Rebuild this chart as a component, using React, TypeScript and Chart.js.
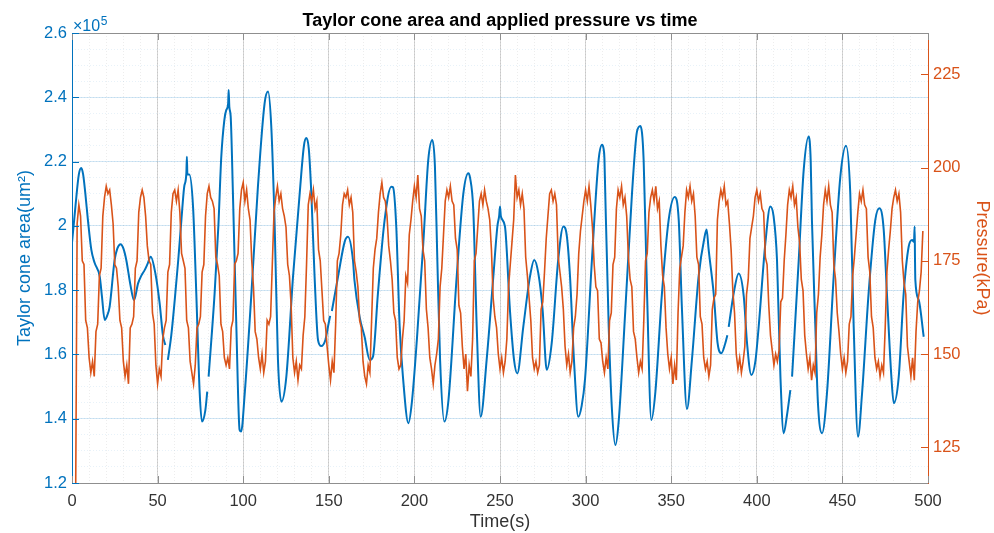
import React, { useEffect, useRef } from 'react';
import { Chart, registerables } from 'chart.js';

Chart.register(...registerables);

const W = 994;
const H = 533;
const PLOT_LEFT = 72;
const PLOT_RIGHT = 928;
const PLOT_TOP = 33;
const PLOT_BOTTOM = 483;

const BLUE = '#0072BD';
const ORANGE = '#D95319';
const AXIS_GRAY = '#8f8f8f';
const FONT = '"Liberation Sans", Arial, Helvetica, sans-serif';

const TITLE = 'Taylor cone area and applied pressure vs time';
const X_LABEL = 'Time(s)';
const AREA_LABEL = 'Taylor cone area(um\u00B2)';
const PRESSURE_LABEL = 'Pressure(kPa)';

const X_TICKS = [0, 50, 100, 150, 200, 250, 300, 350, 400, 450, 500];
const X_MINOR = [0, 10, 20, 30, 40, 50, 60, 70, 80, 90, 100, 110, 120, 130, 140, 150, 160, 170, 180, 190, 200,
  210, 220, 230, 240, 250, 260, 270, 280, 290, 300, 310, 320, 330, 340, 350, 360, 370, 380, 390, 400,
  410, 420, 430, 440, 450, 460, 470, 480, 490, 500];
const AREA_TICKS = [1.2, 1.4, 1.6, 1.8, 2.0, 2.2, 2.4, 2.6];
const AREA_MINOR = [1.2, 1.25, 1.3, 1.35, 1.4, 1.45, 1.5, 1.55, 1.6, 1.65, 1.7, 1.75, 1.8, 1.85, 1.9, 1.95,
  2.0, 2.05, 2.1, 2.15, 2.2, 2.25, 2.3, 2.35, 2.4, 2.45, 2.5, 2.55, 2.6];
const PRESSURE_TICKS = [125, 150, 175, 200, 225];
const PRESSURE_MIN = 115.4;
const PRESSURE_MAX = 236.1;

// Taylor cone area, in units of 10^5 um^2 (null = gap in the record)
const AREA_TIME = [
  0, 2, 4, 5.4, 6.5, 7.8, 9.3, 11.3, 13.2, 16.2,
  17.5, 19.1, 20.5, 22, 24.9, 26.5, 28.4, 30, 31.7, 34.3,
  36.2, 38.6, 40.5, 42.5, 44, 46, 48.7, 51.2, 53.1, 54.5,
  55.2, 56, 58, 60, 62, 63.9, 65.5, 66.8, 67.1, 67.4,
  68.5, 70.7, 72.6, 74.6, 75.9, 77.9, 79, 79.4, 79.8, 83.3,
  85.5, 87.2, 89, 90.1, 91.2, 91.5, 91.9, 92.7, 94, 96,
  97.9, 98.8, 100.9, 104.8, 108.6, 112.5, 114.5, 116.4, 118.4, 120.3,
  122.3, 125.2, 129.1, 133, 135.5, 136.9, 138.3, 139.8, 141.7, 143.7,
  145.6, 148, 149.5, 150.8, 151.3, 151.8, 155.4, 159.3, 161.2, 164.1,
  165, 168, 170.9, 173.9, 175.8, 178.7, 182.6, 186.5, 187.5, 189.4,
  191.4, 193.3, 196.5, 198.5, 201.5, 205.2, 208.1, 210.5, 212, 213.4,
  215, 217.5, 219.9, 224.7, 228.6, 231.5, 232.5, 234.4, 236.4, 238.7,
  242.2, 246.1, 248.5, 249.5, 250, 250.5, 252.9, 255.8, 258.2, 260.1,
  263.6, 267.5, 270, 272.4, 274.9, 277.3, 280.2, 284, 287, 289,
  290.9, 293.2, 295.7, 297.7, 299.7, 303.7, 307.6, 309.6, 310.5, 311,
  311.4, 313.5, 315.4, 317.4, 319.3, 323.2, 327.1, 330, 332, 333.9,
  335.9, 338.4, 340.7, 344.6, 348.5, 352, 354.4, 356.3, 359.2, 362.1,
  366, 369.5, 370.7, 371.8, 374.8, 377.1, 379.3, 381.6, 382.8, 383.2,
  383.6, 386.5, 389.4, 392.4, 394.3, 396.8, 399.2, 401.1, 405, 407.9,
  409.8, 411.8, 413.8, 415.7, 417.6, 419.6, 420.1, 420.6, 424.5, 427.4,
  430.3, 431.5, 432.2, 434.2, 435.7, 438.1, 441, 444.9, 448.8, 452.1,
  454.6, 456.6, 459.1, 461.5, 465.3, 469.2, 471.6, 474.1, 476, 478.6,
  480, 482.9, 485.8, 488.7, 490.7, 491.8, 492.2, 492.4, 492.6, 494.6,
  497.5,
];
const AREA_VALUE = [
  1.947, 2.06, 2.16, 2.18, 2.16, 2.10, 2.018, 1.925, 1.885, 1.842,
  1.78, 1.707, 1.72, 1.749, 1.894, 1.93, 1.943, 1.93, 1.894, 1.811,
  1.769, 1.821, 1.845, 1.863, 1.88, 1.904, 1.852, 1.759, 1.66, 1.629,
  null, 1.583, 1.66, 1.769, 1.89, 2.018, 2.12, 2.164, 2.215, 2.16,
  2.16, 2.06, 1.79, 1.479, 1.391, 1.427, 1.484, null, 1.531, 1.79,
  2.0, 2.215, 2.33, 2.36, 2.38, 2.423, 2.37, 2.34, 2.10, 1.686,
  1.365, 1.36, 1.479, 1.79, 2.122, 2.381, 2.418, 2.309, 1.998, 1.583,
  1.453, 1.531, 1.842, 2.101, 2.25, 2.273, 2.24, 2.10, 1.842, 1.645,
  1.626, 1.645, 1.686, 1.72, null, 1.735, 1.842, 1.951, 1.966, 1.894,
  1.83, 1.717, 1.655, 1.583, 1.593, 1.79, 2.018, 2.122, 2.12, 1.998,
  1.686, 1.531, 1.386, 1.45, 1.65, 1.946, 2.205, 2.267, 2.184, 1.894,
  1.583, 1.391, 1.458, 1.842, 2.101, 2.164, 2.15, 2.049, 1.686, 1.406,
  1.583, 1.842, 2.0, 2.03, 2.06, 2.03, 1.998, 1.738, 1.583, 1.541,
  1.686, 1.842, 1.894, 1.852, 1.738, 1.552, 1.635, 1.894, 1.998, 1.97,
  1.842, 1.583, 1.406, 1.44, 1.525, 1.894, 2.205, 2.252, 2.24, 2.21,
  2.12, 1.686, 1.427, 1.318, 1.39, 1.738, 2.101, 2.293, 2.311, 2.205,
  1.79, 1.396, 1.48, 1.79, 2.018, 2.09, 2.018, 1.738, 1.43, 1.583,
  1.842, 1.966, 1.989, 1.93, 1.79, 1.635, 1.604, 1.635, 1.66, null,
  1.686, 1.79, 1.852, 1.78, 1.635, 1.536, 1.58, 1.686, 1.946, 2.06,
  2.03, 1.894, 1.531, 1.355, 1.41, 1.489, null, 1.531, 1.894, 2.174,
  2.278, 2.2, 2.018, 1.686, 1.45, 1.355, 1.48, 1.842, 2.153, 2.249,
  2.101, 1.686, 1.344, 1.48, 1.79, 2.018, 2.055, 1.99, 1.79, 1.531,
  1.448, 1.53, 1.79, 1.935, 1.956, 1.95, 1.998, 1.9, 1.832, 1.769,
  1.655,
];

// Applied pressure (kPa), one sample per second starting at t = 0 s
const PRESSURE_KPA = [
  100, 100, 100, 185, 190, 187, 175, 174, 159, 157,
  149, 145, 148, 144, 156, 158, 171, 173, 187, 192,
  195, 193, 194, 190, 185, 174, 173, 168, 159, 157,
  148, 144, 147, 142, 157, 158, 160, 173, 175, 188,
  192, 194, 192, 187, 179, 175, 174, 161, 158, 147,
  142, 146, 144, 154, 157, 159, 172, 174, 188, 193,
  194, 191, 194, 188, 177, 175, 173, 159, 157, 148,
  145, 142, 147, 157, 158, 160, 172, 174, 187, 193,
  195, 192, 191, 189, 176, 174, 171, 158, 156, 149,
  147, 149, 146, 157, 159, 174, 175, 177, 189, 194,
  196, 191, 194, 189, 186, 175, 168, 156, 154, 149,
  146, 150, 145, 148, 159, 158, 160, 174, 188, 192,
  195, 191, 193, 189, 187, 184, 174, 171, 163, 149,
  145, 148, 143, 147, 146, 155, 160, 174, 190, 193,
  191, 194, 189, 191, 178, 175, 167, 159, 158, 152,
  147, 143, 148, 145, 158, 175, 177, 182, 190, 193,
  192, 194, 190, 192, 188, 175, 172, 168, 159, 157,
  148, 144, 142, 147, 145, 159, 173, 178, 181, 188,
  193, 196, 192, 191, 187, 179, 175, 170, 161, 159,
  149, 146, 147, 154, 159, 171, 169, 182, 186, 191,
  195, 192, 198, 189, 187, 178, 175, 162, 157, 149,
  146, 142, 147, 150, 154, 168, 173, 182, 191, 194,
  192, 195, 191, 190, 181, 178, 163, 161, 152, 146,
  150, 140, 147, 144, 154, 175, 177, 184, 191, 193,
  190, 194, 191, 189, 186, 178, 165, 160, 157, 150,
  146, 149, 145, 148, 154, 168, 174, 180, 186, 198,
  192, 194, 190, 193, 189, 176, 171, 165, 159, 149,
  146, 148, 145, 147, 162, 164, 172, 181, 187, 193,
  194, 191, 193, 190, 176, 172, 168, 162, 152, 147,
  150, 145, 148, 157, 160, 166, 177, 183, 187, 191,
  194, 191, 195, 190, 184, 174, 168, 167, 154, 153,
  148, 145, 149, 146, 159, 161, 174, 176, 189, 194,
  192, 195, 190, 192, 187, 176, 170, 168, 156, 154,
  149, 145, 148, 146, 159, 175, 177, 188, 192, 194,
  191, 195, 189, 191, 179, 171, 168, 157, 150, 146,
  149, 142, 147, 143, 161, 173, 176, 179, 188, 194,
  192, 195, 191, 193, 187, 176, 174, 160, 158, 149,
  146, 148, 144, 147, 162, 165, 166, 186, 191, 194,
  192, 195, 190, 191, 185, 178, 167, 161, 150, 146,
  149, 145, 148, 152, 166, 170, 181, 184, 187, 192,
  194, 191, 193, 189, 188, 176, 174, 163, 155, 151,
  147, 150, 148, 151, 164, 165, 175, 182, 190, 194,
  192, 195, 190, 192, 184, 180, 170, 167, 155, 150,
  146, 149, 143, 147, 145, 161, 166, 176, 182, 190,
  194, 191, 195, 190, 188, 174, 170, 161, 156, 150,
  146, 149, 145, 148, 158, 160, 171, 176, 182, 188,
  193, 191, 194, 190, 189, 176, 172, 160, 157, 149,
  146, 148, 144, 147, 145, 157, 172, 178, 183, 189,
  192, 194, 191, 193, 188, 175, 169, 166, 152, 148,
  144, 149, 143, 156, 164, 167, 172, 183,
];

const PRESSURE_STEP_S = 1;

const decorPlugin = {
  id: 'matlabDecor',
  afterDraw(chart: any) {
    const { ctx, chartArea: a, scales } = chart;
    const TL = 7;
    ctx.save();
    ctx.lineWidth = 1;
    ctx.strokeStyle = AXIS_GRAY;
    ctx.beginPath();
    ctx.moveTo(a.left, Math.round(a.top) + 0.5);
    ctx.lineTo(a.right, Math.round(a.top) + 0.5);
    ctx.stroke();
    ctx.beginPath();
    for (const v of X_TICKS) {
      const px = Math.round(scales.x.getPixelForValue(v)) + 0.5;
      ctx.moveTo(px, a.bottom);
      ctx.lineTo(px, a.bottom - TL);
      ctx.moveTo(px, a.top);
      ctx.lineTo(px, a.top + TL);
    }
    ctx.stroke();
    ctx.strokeStyle = BLUE;
    ctx.beginPath();
    for (const v of AREA_TICKS) {
      const py = Math.round(scales.y.getPixelForValue(v)) + 0.5;
      ctx.moveTo(a.left, py);
      ctx.lineTo(a.left + TL, py);
    }
    ctx.stroke();
    ctx.strokeStyle = ORANGE;
    ctx.beginPath();
    for (const v of PRESSURE_TICKS) {
      const py = Math.round(scales.y2.getPixelForValue(v)) + 0.5;
      ctx.moveTo(a.right, py);
      ctx.lineTo(a.right - TL, py);
    }
    ctx.stroke();
    ctx.fillStyle = '#000';
    ctx.font = `bold 18px ${FONT}`;
    ctx.textAlign = 'center';
    ctx.textBaseline = 'alphabetic';
    ctx.fillText(TITLE, (a.left + a.right) / 2, 25.5);
    ctx.fillStyle = BLUE;
    ctx.textAlign = 'left';
    ctx.font = `16px ${FONT}`;
    const base = '\u00D710';
    ctx.fillText(base, a.left + 1, 31);
    const w = ctx.measureText(base).width;
    ctx.font = `12px ${FONT}`;
    ctx.fillText('5', a.left + 1 + w + 0.5, 25);
    ctx.restore();
  },
};

export default function App() {
  const ref = useRef<HTMLCanvasElement>(null);

  useEffect(() => {
    document.body.style.margin = '0';
    const canvas = ref.current;
    if (!canvas) return;

    const areaData = AREA_TIME.map((t, i) => ({ x: t, y: AREA_VALUE[i] }));
    const pressureData = PRESSURE_KPA.map((p, i) => ({ x: i * PRESSURE_STEP_S, y: p }));

    const edgeTransparent = (ends: number[], color: string) => (ctx: any) =>
      ctx.tick && ends.some((e) => Math.abs(ctx.tick.value - e) < 1e-9) ? 'rgba(0,0,0,0)' : color;

    const chart = new Chart(canvas, {
      type: 'line',
      data: {
        datasets: [
          {
            label: 'Area',
            data: areaData as any,
            borderColor: BLUE,
            borderWidth: 2,
            pointRadius: 0,
            cubicInterpolationMode: 'monotone',
            spanGaps: false,
            xAxisID: 'x',
            yAxisID: 'y',
            order: 2,
          },
          {
            label: 'Pressure',
            data: pressureData as any,
            borderColor: ORANGE,
            borderWidth: 1.6,
            pointRadius: 0,
            tension: 0,
            xAxisID: 'x',
            yAxisID: 'y2',
            order: 1,
          },
        ],
      },
      options: {
        animation: false,
        responsive: false,
        events: [],
        layout: { padding: { top: PLOT_TOP, left: 0, right: 0, bottom: 0 } },
        plugins: { legend: { display: false }, tooltip: { enabled: false }, title: { display: false } },
        scales: {
          x: {
            type: 'linear',
            position: 'bottom',
            min: 0,
            max: 500,
            afterBuildTicks: (s: any) => { s.ticks = X_TICKS.map((v) => ({ value: v })); },
            afterFit: (s: any) => { s.height = H - PLOT_BOTTOM; },
            grid: { color: edgeTransparent([0, 500], 'rgba(0,0,0,0.16)'), drawTicks: false, lineWidth: 1 },
            border: { color: AXIS_GRAY, width: 1 },
            ticks: {
              color: '#333',
              font: { family: FONT, size: 16.5 },
              padding: 9,
              maxRotation: 0,
              autoSkip: false,
              callback: (v: any) => String(v),
            },
            title: { display: true, text: X_LABEL, color: '#333', font: { family: FONT, size: 18 }, padding: { top: 0, bottom: 0 } },
          },
          xMinor: {
            type: 'linear',
            position: 'bottom',
            min: 0,
            max: 500,
            afterBuildTicks: (s: any) => { s.ticks = X_MINOR.map((v) => ({ value: v })); },
            afterFit: (s: any) => { s.height = 0; },
            grid: { color: edgeTransparent([0, 500], 'rgba(0,0,0,0.07)'), drawTicks: false, lineWidth: 1 },
            border: { display: false, dash: [1, 2] },
            ticks: { display: false },
          },
          y: {
            type: 'linear',
            position: 'left',
            min: 1.2,
            max: 2.6,
            afterBuildTicks: (s: any) => { s.ticks = AREA_TICKS.map((v) => ({ value: v })); },
            afterFit: (s: any) => { s.width = PLOT_LEFT; },
            grid: { color: edgeTransparent([1.2, 2.6], 'rgba(0,114,189,0.17)'), drawTicks: false, lineWidth: 1 },
            border: { color: BLUE, width: 1 },
            ticks: {
              color: BLUE,
              font: { family: FONT, size: 16.5 },
              padding: 5,
              callback: (v: any) => String(Number(Number(v).toFixed(2))),
            },
            title: { display: true, text: AREA_LABEL, color: BLUE, font: { family: FONT, size: 18 }, padding: { top: 14, bottom: 0 } },
          },
          yMinor: {
            type: 'linear',
            position: 'left',
            min: 1.2,
            max: 2.6,
            afterBuildTicks: (s: any) => { s.ticks = AREA_MINOR.map((v) => ({ value: v })); },
            afterFit: (s: any) => { s.width = 0; },
            grid: { color: edgeTransparent([1.2, 2.6], 'rgba(0,114,189,0.09)'), drawTicks: false, lineWidth: 1 },
            border: { display: false, dash: [1, 2] },
            ticks: { display: false },
          },
          y2: {
            type: 'linear',
            position: 'right',
            min: PRESSURE_MIN,
            max: PRESSURE_MAX,
            afterBuildTicks: (s: any) => { s.ticks = PRESSURE_TICKS.map((v) => ({ value: v })); },
            afterFit: (s: any) => { s.width = W - PLOT_RIGHT; },
            grid: { drawOnChartArea: false, drawTicks: false },
            border: { color: ORANGE, width: 1 },
            ticks: {
              color: ORANGE,
              font: { family: FONT, size: 16.5 },
              padding: 5,
              callback: (v: any) => String(v),
            },
            title: { display: true, text: PRESSURE_LABEL, color: ORANGE, font: { family: FONT, size: 18 }, padding: { top: 1, bottom: 0 } },
          },
        },
      } as any,
      plugins: [decorPlugin],
    });

    return () => chart.destroy();
  }, []);

  return (
    <div style={{ position: 'absolute', left: 0, top: 0, width: W, height: H, background: '#fff' }}>
      <canvas ref={ref} width={W} height={H} style={{ display: 'block', width: W, height: H }} />
    </div>
  );
}
